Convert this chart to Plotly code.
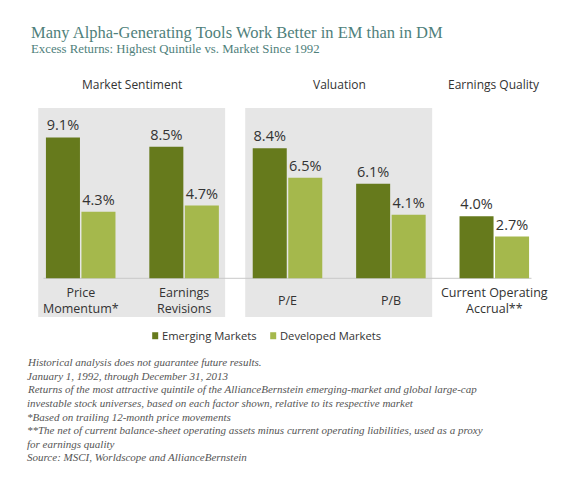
import plotly.graph_objects as go

categories = ["Price<br>Momentum*", "Earnings<br>Revisions", "P/E", "P/B", "Current Operating<br>Accrual**"]
emerging = [9.1, 8.5, 8.4, 6.1, 4.0]
developed = [4.3, 4.7, 6.5, 4.1, 2.7]
groups = ["Market Sentiment", "Valuation", "Earnings Quality"]
series_names = ["Emerging Markets", "Developed Markets"]

EM_COLOR = "#667a1c"
DM_COLOR = "#a5b84c"
TEAL = "#4f7f7b"
TXT = "#333333"
SANS = "Open Sans, Noto Sans, sans-serif"
SERIF = "Liberation Serif, serif"

W_FIG, H_FIG = 580, 492
L, R = 28.8, 34.2
T, B = 107.5, 175.25
PW = W_FIG - L - R
PH = H_FIG - T - B


def px(x, y):
    return (x - L) / PW, (T + PH - y) / PH


xs = list(range(len(categories)))

fig = go.Figure()
fig.add_trace(go.Bar(x=xs, y=emerging, name=series_names[0], marker=dict(color=EM_COLOR, line=dict(width=0)),
                     text=[f"{v:.1f}%" for v in emerging], textposition="outside",
                     textfont=dict(family=SANS, size=14.5, color=TXT), cliponaxis=False))
fig.add_trace(go.Bar(x=xs, y=developed, name=series_names[1], marker=dict(color=DM_COLOR, line=dict(width=0)),
                     text=[f"{v:.1f}%" for v in developed], textposition="outside",
                     textfont=dict(family=SANS, size=14.5, color=TXT), cliponaxis=False))

shapes = []
# gray group backgrounds
for x0, x1 in [(-0.411, 1.397), (1.591, 3.399)]:
    shapes.append(dict(type="rect", xref="x", yref="paper", x0=x0, x1=x1, y0=0, y1=1,
                       fillcolor="#e6e6e6", line=dict(width=0), layer="below"))
# baseline
shapes.append(dict(type="line", xref="x", yref="y", x0=-0.36, x1=4.36, y0=0, y1=0,
                   line=dict(color="#c9c9c9", width=1), layer="below"))

annotations = []
# category labels
for i, c in enumerate(categories):
    annotations.append(dict(x=i, y=-1.45, xref="x", yref="y", text=c, showarrow=False,
                            font=dict(family=SANS, size=12.5, color=TXT), align="center",
                            yanchor="middle"))
# group titles
_, gy = px(0, 84)
for gx, g in zip([0.5, 2.5, 4.0], groups):
    annotations.append(dict(x=gx, y=gy, xref="x", yref="paper", text=g, showarrow=False,
                            font=dict(family=SANS, size=12, color=TXT), yanchor="middle"))

# title & subtitle
tx, ty = px(29, 32)
annotations.append(dict(x=tx, y=ty, xref="paper", yref="paper", xanchor="left", yanchor="middle",
                        text="Many Alpha-Generating Tools Work Better in EM than in DM", showarrow=False,
                        font=dict(family=SERIF, size=16.5, color=TEAL)))
sx, sy = px(29, 48)
annotations.append(dict(x=sx, y=sy, xref="paper", yref="paper", xanchor="left", yanchor="middle",
                        text="Excess Returns: Highest Quintile vs. Market Since 1992", showarrow=False,
                        font=dict(family=SERIF, size=12.8, color=TEAL)))

# custom legend
for (sqx, name, col) in [(152, series_names[0], EM_COLOR), (270, series_names[1], DM_COLOR)]:
    x0, y0 = px(sqx, 339)
    x1, y1 = px(sqx + 6, 332)
    shapes.append(dict(type="rect", xref="paper", yref="paper", x0=x0, x1=x1, y0=y0, y1=y1,
                       fillcolor=col, line=dict(width=0)))
    lx, ly = px(sqx + 8, 335.5)
    annotations.append(dict(x=lx, y=ly, xref="paper", yref="paper", xanchor="left", yanchor="middle",
                            text=name, showarrow=False, font=dict(family=SANS, size=11.2, color=TXT)))

footnotes = [
    "Historical analysis does not guarantee future results.",
    "January 1, 1992, through December 31, 2013",
    "Returns of the most attractive quintile of the AllianceBernstein emerging-market and global large-cap",
    "investable stock universes, based on each factor shown, relative to its respective market",
    "*Based on trailing 12-month price movements",
    "**The net of current balance-sheet operating assets minus current operating liabilities, used as a proxy",
    "for earnings quality",
    "Source: MSCI, Worldscope and AllianceBernstein",
]
for k, line in enumerate(footnotes):
    fx, fy = px(25, 362 + k * 13.6)
    annotations.append(dict(x=fx, y=fy, xref="paper", yref="paper", xanchor="left", yanchor="middle",
                            text=f"<i>{line}</i>", showarrow=False,
                            font=dict(family=SERIF, size=11, color="#555555")))

fig.update_layout(
    width=W_FIG, height=H_FIG,
    margin=dict(l=L, r=R, t=T, b=B, pad=0),
    paper_bgcolor="white", plot_bgcolor="white",
    barmode="group", bargap=0.313, bargroupgap=0.042,
    showlegend=False,
    xaxis=dict(range=[-0.5, 4.5], visible=False, fixedrange=True),
    yaxis=dict(range=[-2.5, 11.0], visible=False, fixedrange=True),
    shapes=shapes, annotations=annotations,
)

fig.write_html("out.html", config={"displayModeBar": False},
               post_script="document.body.style.margin='0';document.body.style.padding='0';")
